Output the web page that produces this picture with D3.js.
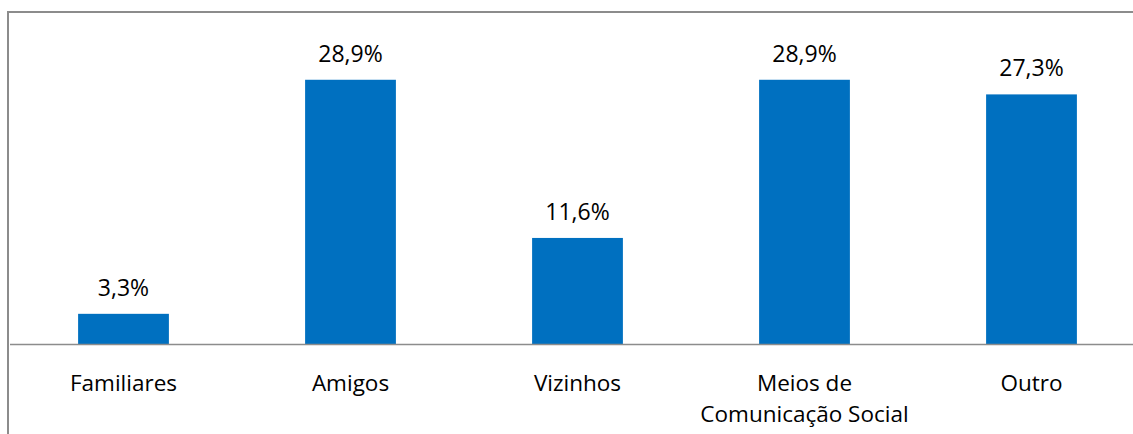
<!DOCTYPE html>
<html>
<head>
<meta charset="utf-8">
<script src="https://cdn.jsdelivr.net/npm/d3@7"></script>
<style>
body { margin: 0; background: #fff; }
text { font-family: "Open Sans", sans-serif; fill: #000; }
</style>
</head>
<body>
<svg id="main" width="1133" height="434"></svg>
<script>
var categories = [["Familiares"], ["Amigos"], ["Vizinhos"], ["Meios de", "Comunicação Social"], ["Outro"]];
var values = [3.3, 28.9, 11.6, 28.9, 27.3];
var valueLabels = ["3,3%", "28,9%", "11,6%", "28,9%", "27,3%"];

var svg = d3.select("#main");
svg.append("rect").attr("x", 8).attr("y", 12).attr("width", 1140).attr("height", 440).attr("fill", "#fff").attr("stroke", "#8c8c8c").attr("stroke-width", 2);

var x = d3.scaleBand().domain(d3.range(values.length)).range([10, 1145]).paddingInner(0.6).paddingOuter(0.3);
var y = d3.scaleLinear().domain([0, 35]).range([344, 24]);

svg.selectAll("rect.bar").data(values).enter().append("rect").classed("bar", true)
	.attr("x", function(d, i) { return x(i); })
	.attr("y", function(d) { return y(d); })
	.attr("width", x.bandwidth())
	.attr("height", function(d) { return y(0) - y(d); })
	.attr("fill", "#0070c0");

svg.append("line").attr("x1", 10).attr("x2", 1133).attr("y1", y(0) + 0.5).attr("y2", y(0) + 0.5).attr("stroke", "#8c8c8c").attr("stroke-width", 1.5);

svg.selectAll("text.val").data(values).enter().append("text").classed("val", true)
	.attr("x", function(d, i) { return x(i) + x.bandwidth() / 2; })
	.attr("y", function(d) { return y(d) - 18; })
	.attr("text-anchor", "middle").attr("font-size", "23px")
	.text(function(d, i) { return valueLabels[i]; });

var cat = svg.selectAll("text.cat").data(categories).enter().append("text").classed("cat", true)
	.attr("x", function(d, i) { return x(i) + x.bandwidth() / 2; })
	.attr("y", 391)
	.attr("text-anchor", "middle").attr("font-size", "22.5px");
cat.each(function(d, i) {
	var t = d3.select(this);
	d.forEach(function(line, j) {
		t.append("tspan").attr("x", x(i) + x.bandwidth() / 2).attr("dy", j == 0 ? 0 : 30.5).text(line);
	});
});
</script>
</body>
</html>
